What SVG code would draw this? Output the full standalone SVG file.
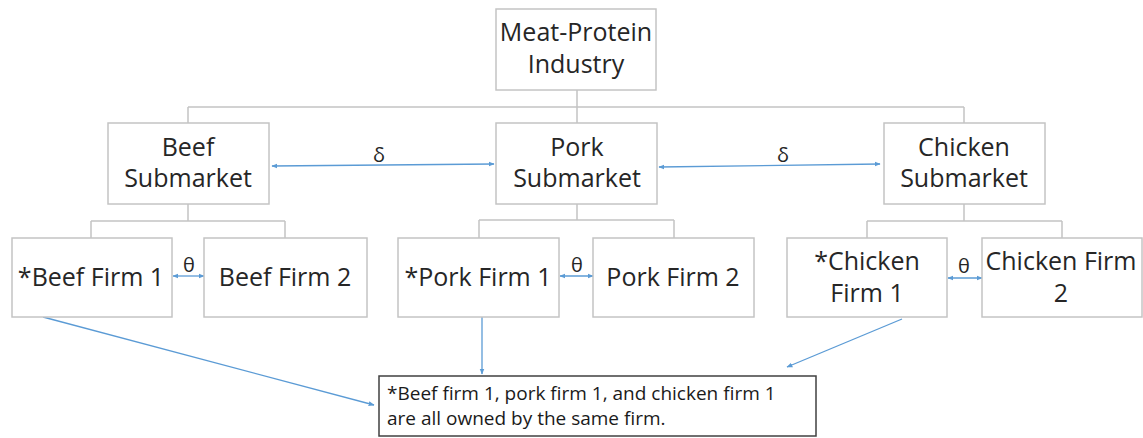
<svg xmlns="http://www.w3.org/2000/svg" width="1143" height="438" viewBox="0 0 1143 438">
<defs>
<marker id="ah" viewBox="0 0 10 10" refX="9" refY="5" markerWidth="6" markerHeight="6" orient="auto-start-reverse" markerUnits="userSpaceOnUse">
<path d="M0,1 L10,5 L0,9 Z" fill="#5b9bd5"/>
</marker>
<style>
.box{fill:#fff;stroke:#c4c4c4;stroke-width:1.5}
.note{fill:#fff;stroke:#404040;stroke-width:1.5}
.t{font-family:"Open Sans","Liberation Sans",sans-serif;font-size:25px;fill:#262626;text-anchor:middle}
.n{font-family:"Open Sans","Liberation Sans",sans-serif;font-size:19px;fill:#1a1a1a}
.g{font-family:"Open Sans","Liberation Sans",sans-serif;font-size:20px;fill:#262626;text-anchor:middle}
.tree{fill:none;stroke:#c4c4c4;stroke-width:1.5}
.arr{fill:none;stroke:#5b9bd5;stroke-width:1.3}
</style>
</defs>
<rect width="1143" height="438" fill="#fff"/>
<g id="connectors">
<path class="tree" d="M577,90 V107 M188,107 H964 M188,107 V123 M577,107 V123 M964,107 V123"/>
<path class="tree" d="M188,204 V221 M91,221 H285 M91,221 V238 M285,221 V238"/>
<path class="tree" d="M577,204 V220 M479,220 H674 M479,220 V238 M674,220 V238"/>
<path class="tree" d="M964,204 V221 M867,221 H1062 M867,221 V238 M1062,221 V238"/>
<line class="arr" x1="272" y1="166" x2="494" y2="164" marker-start="url(#ah)" marker-end="url(#ah)"/>
<line class="arr" x1="659" y1="167" x2="880" y2="164" marker-start="url(#ah)" marker-end="url(#ah)"/>
<line class="arr" x1="173" y1="276" x2="204" y2="276" marker-start="url(#ah)" marker-end="url(#ah)"/>
<line class="arr" x1="560" y1="276" x2="593" y2="276" marker-start="url(#ah)" marker-end="url(#ah)"/>
<line class="arr" x1="948" y1="278" x2="982" y2="278" marker-start="url(#ah)" marker-end="url(#ah)"/>
<line class="arr" x1="482" y1="317" x2="482" y2="374" marker-end="url(#ah)"/>
<line class="arr" x1="43" y1="317" x2="374" y2="405" marker-end="url(#ah)"/>
<line class="arr" x1="902" y1="319" x2="787" y2="367" marker-end="url(#ah)"/>
<text class="g" x="379" y="162">δ</text>
<text class="g" x="783" y="162">δ</text>
<text class="g" x="189" y="272">θ</text>
<text class="g" x="577" y="272">θ</text>
<text class="g" x="964" y="273">θ</text>
</g>
<g id="industry">
<rect class="box" x="496" y="9" width="160" height="81"/>
<text class="t" x="576" y="41">Meat-Protein</text>
<text class="t" x="576" y="73">Industry</text>
</g>
<g id="beef-sub">
<rect class="box" x="108" y="123" width="161" height="81"/>
<text class="t" x="188" y="156">Beef</text>
<text class="t" x="188" y="187">Submarket</text>
</g>
<g id="pork-sub">
<rect class="box" x="496" y="123" width="161" height="81"/>
<text class="t" x="577" y="156">Pork</text>
<text class="t" x="577" y="187">Submarket</text>
</g>
<g id="chicken-sub">
<rect class="box" x="884" y="123" width="161" height="81"/>
<text class="t" x="964" y="156">Chicken</text>
<text class="t" x="964" y="187">Submarket</text>
</g>
<g id="beef-firm-1">
<rect class="box" x="12" y="238" width="160" height="79"/>
<text class="t" x="91" y="286">*Beef Firm 1</text>
</g>
<g id="beef-firm-2">
<rect class="box" x="204" y="238" width="163" height="79"/>
<text class="t" x="285" y="286">Beef Firm 2</text>
</g>
<g id="pork-firm-1">
<rect class="box" x="398" y="238" width="161" height="79"/>
<text class="t" x="478" y="286">*Pork Firm 1</text>
</g>
<g id="pork-firm-2">
<rect class="box" x="593" y="238" width="161" height="79"/>
<text class="t" x="673" y="286">Pork Firm 2</text>
</g>
<g id="chicken-firm-1">
<rect class="box" x="787" y="238" width="160" height="79"/>
<text class="t" x="867" y="270">*Chicken</text>
<text class="t" x="867" y="302">Firm 1</text>
</g>
<g id="chicken-firm-2">
<rect class="box" x="982" y="238" width="160" height="79"/>
<text class="t" x="1061" y="270">Chicken Firm</text>
<text class="t" x="1061" y="302">2</text>
</g>
<g id="note">
<rect class="note" x="379" y="376" width="437" height="60"/>
<text class="n" x="387" y="400">*Beef firm 1, pork firm 1, and chicken firm 1</text>
<text class="n" x="387" y="425">are all owned by the same firm.</text>
</g>
</svg>
